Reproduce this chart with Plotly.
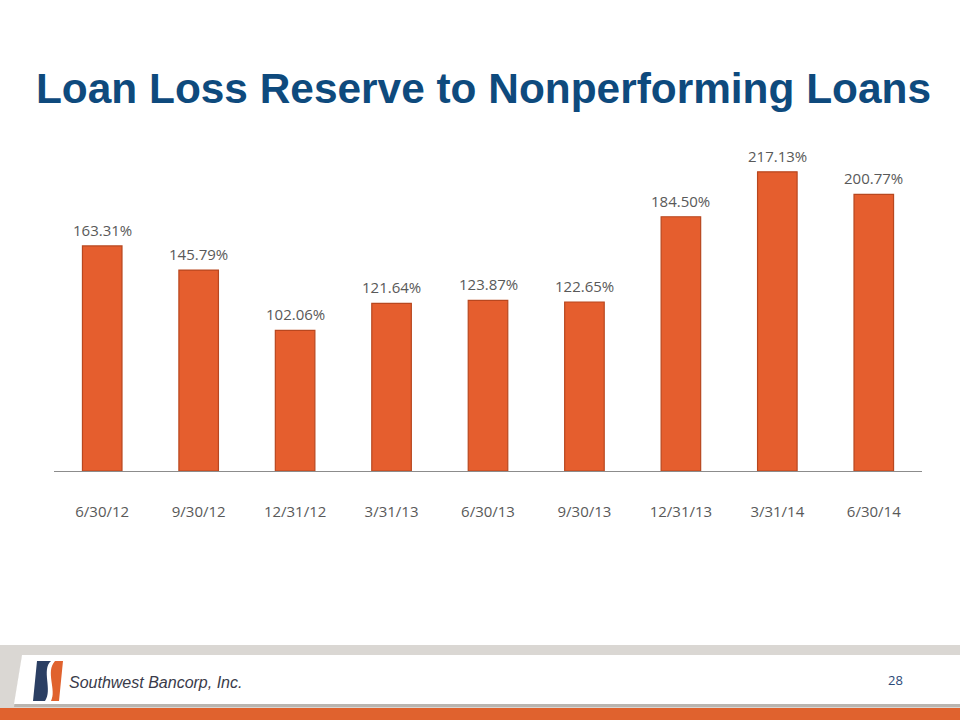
import plotly.graph_objects as go

categories = ["6/30/12", "9/30/12", "12/31/12", "3/31/13", "6/30/13", "9/30/13", "12/31/13", "3/31/14", "6/30/14"]
values = [163.31, 145.79, 102.06, 121.64, 123.87, 122.65, 184.50, 217.13, 200.77]
labels = [f"{v:.2f}%" for v in values]

W, H = 960, 720
L, R, T, B = 54, 960 - 922, 140, 720 - 471
PW, PH = W - L - R, H - T - B


def px(x):
    # page pixel x -> paper coordinate
    return (x - L) / PW


def py(y):
    # page pixel y -> paper coordinate
    return (H - B - y) / PH


fig = go.Figure()
fig.add_trace(go.Bar(
    x=categories, y=values,
    marker=dict(color="#E55E2E", line=dict(color="#B8471F", width=1.2)),
    width=0.41,
    hoverinfo="skip",
))

shapes = []
# footer gray band
shapes.append(dict(type="rect", xref="paper", yref="paper",
                   x0=px(-10), x1=px(W + 20), y0=py(708), y1=py(645),
                   fillcolor="#DAD7D3", line=dict(width=0), layer="below"))
# card shadow
shapes.append(dict(type="path", xref="paper", yref="paper",
                   path=f"M {px(22)},{py(657)} L {px(W + 20)},{py(657)} L {px(W + 20)},{py(707)} L {px(14)},{py(707)} Z",
                   fillcolor="#B9B5B0", line=dict(width=0), layer="below"))
# white card
shapes.append(dict(type="path", xref="paper", yref="paper",
                   path=f"M {px(22)},{py(655)} L {px(W + 20)},{py(655)} L {px(W + 20)},{py(704)} L {px(14)},{py(704)} Z",
                   fillcolor="#FFFFFF", line=dict(width=0), layer="below"))
# orange stripe
shapes.append(dict(type="rect", xref="paper", yref="paper",
                   x0=px(-10), x1=px(W + 20), y0=py(730), y1=py(708),
                   fillcolor="#E0622E", line=dict(width=0), layer="below"))
# logo navy part
shapes.append(dict(type="path", xref="paper", yref="paper",
                   path=(f"M {px(37)},{py(661)} L {px(51)},{py(661)} "
                         f"C {px(41)},{py(670)} {px(53)},{py(690)} {px(45)},{py(701)} "
                         f"L {px(33)},{py(701)} Z"),
                   fillcolor="#2B3F63", line=dict(width=0)))
# logo orange part
shapes.append(dict(type="path", xref="paper", yref="paper",
                   path=(f"M {px(55)},{py(661)} L {px(63)},{py(661)} L {px(59)},{py(701)} L {px(51)},{py(701)} "
                         f"C {px(57)},{py(690)} {px(45)},{py(672)} {px(55)},{py(661)} Z"),
                   fillcolor="#E0622E", line=dict(width=0)))

annotations = []
for c, v, t in zip(categories, values, labels):
    annotations.append(dict(x=c, y=v, xref="x", yref="y", text=t, showarrow=False,
                            yanchor="middle", yshift=16,
                            font=dict(family="Open Sans, Lato, sans-serif", size=15, color="#595959")))

annotations += [
    dict(text="Southwest Bancorp, Inc.", xref="paper", yref="paper", x=px(67), y=py(682),
         xanchor="left", yanchor="middle", showarrow=False,
         font=dict(family="Liberation Sans, Arial, sans-serif", size=16, color="#3A3B4A", style="italic")),
    dict(text="28", xref="paper", yref="paper", x=px(895), y=py(680),
         xanchor="center", yanchor="middle", showarrow=False,
         font=dict(family="Open Sans, sans-serif", size=13, color="#2B4A78")),
]

fig.update_layout(
    width=W, height=H,
    margin=dict(l=L, r=R, t=T, b=B, pad=0),
    paper_bgcolor="white", plot_bgcolor="white",
    title=dict(text="<b>Loan Loss Reserve to Nonperforming Loans</b>",
               x=483.5 / W, xanchor="center", xref="container",
               y=1 - 88.5 / H, yanchor="middle", yref="container",
               font=dict(family="Liberation Sans, Arial, sans-serif", size=42.4, color="#0E4A7D")),
    showlegend=False,
    hovermode=False,
    bargap=0.59,
    shapes=shapes,
    annotations=annotations,
    xaxis=dict(showgrid=False, showline=True, linecolor="#8C8C8C", linewidth=1,
               ticks="", ticklabelstandoff=27,
               tickfont=dict(family="Open Sans, Lato, sans-serif", size=15, color="#595959"),
               fixedrange=True),
    yaxis=dict(range=[0, 240.2], visible=False, showgrid=False, zeroline=False, fixedrange=True),
)

fig.write_html("out.html",
               config={"displayModeBar": False},
               post_script="document.body.style.margin='0';document.body.style.overflow='hidden';")
